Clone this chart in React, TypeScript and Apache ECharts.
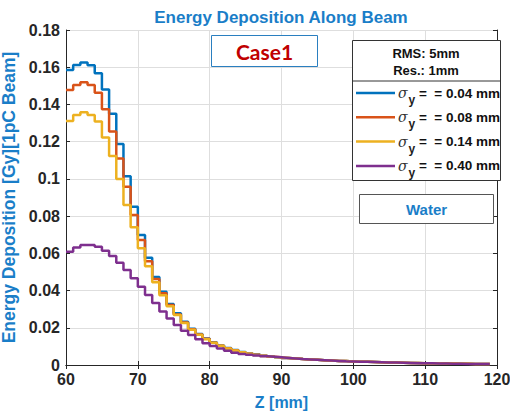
import React, { useEffect, useRef } from "react";
import * as echarts from "echarts";

const zValues = [
  60, 61, 62, 63, 64, 65, 66, 67, 68, 69, 70, 71, 72, 73, 74, 75, 76, 77, 78, 79,
  80, 81, 82, 83, 84, 85, 86, 87, 88, 89, 90, 91, 92, 93, 94, 95, 96, 97, 98, 99,
  100, 101, 102, 103, 104, 105, 106, 107, 108, 109, 110, 111, 112, 113, 114, 115, 116, 117, 118, 119,
];

const dose004 = [
  0.1585, 0.1612, 0.1625, 0.161, 0.1567, 0.148, 0.135, 0.1188, 0.1014, 0.085,
  0.0699, 0.0576, 0.0473, 0.0394, 0.0328, 0.0278, 0.0233, 0.0195, 0.0167, 0.0143,
  0.0122, 0.0105, 0.0091, 0.008, 0.007, 0.0062, 0.0056, 0.005, 0.0046, 0.0042,
  0.0038, 0.0035, 0.0032, 0.003, 0.0028, 0.0026, 0.0024, 0.0022, 0.0021, 0.0019,
  0.0018, 0.0017, 0.0016, 0.0015, 0.0014, 0.0013, 0.0012, 0.0011, 0.0011, 0.001,
  0.0009, 0.0009, 0.0008, 0.0008, 0.0007, 0.0007, 0.0006, 0.0006, 0.0005, 0.0005,
];
const dose008 = [
  0.1478, 0.1505, 0.1519, 0.1505, 0.1463, 0.1374, 0.1254, 0.111, 0.0958, 0.0806,
  0.0672, 0.0557, 0.0462, 0.0386, 0.0322, 0.0272, 0.0229, 0.0192, 0.0164, 0.0141,
  0.012, 0.0104, 0.009, 0.0079, 0.0069, 0.0061, 0.0055, 0.005, 0.0045, 0.0042,
  0.0038, 0.0035, 0.0032, 0.003, 0.0028, 0.0026, 0.0024, 0.0022, 0.0021, 0.0019,
  0.0018, 0.0017, 0.0016, 0.0015, 0.0014, 0.0013, 0.0012, 0.0011, 0.0011, 0.001,
  0.0009, 0.0009, 0.0008, 0.0008, 0.0007, 0.0007, 0.0006, 0.0006, 0.0005, 0.0005,
];
const dose014 = [
  0.1311, 0.1343, 0.1358, 0.1343, 0.1308, 0.1223, 0.1123, 0.1, 0.086, 0.074,
  0.0627, 0.053, 0.0444, 0.0375, 0.0316, 0.0268, 0.0226, 0.019, 0.0162, 0.0139,
  0.0119, 0.0103, 0.0089, 0.0078, 0.0068, 0.006, 0.0054, 0.0049, 0.0045, 0.0041,
  0.0038, 0.0035, 0.0032, 0.003, 0.0028, 0.0026, 0.0024, 0.0022, 0.0021, 0.0019,
  0.0018, 0.0017, 0.0016, 0.0015, 0.0014, 0.0013, 0.0012, 0.0011, 0.0011, 0.001,
  0.0009, 0.0009, 0.0008, 0.0008, 0.0007, 0.0007, 0.0006, 0.0006, 0.0005, 0.0005,
];
const dose040 = [
  0.0609, 0.0632, 0.0645, 0.0645, 0.0636, 0.0614, 0.0586, 0.055, 0.051, 0.0466,
  0.0421, 0.0376, 0.0333, 0.0287, 0.025, 0.0215, 0.0184, 0.0161, 0.0138, 0.0117,
  0.0102, 0.0088, 0.0077, 0.0066, 0.0059, 0.0055, 0.0051, 0.0047, 0.0044, 0.0041,
  0.0038, 0.0035, 0.0032, 0.003, 0.0028, 0.0026, 0.0024, 0.0022, 0.002, 0.0019,
  0.0018, 0.0017, 0.0016, 0.0015, 0.0014, 0.0013, 0.0012, 0.0011, 0.001, 0.001,
  0.0009, 0.0008, 0.0008, 0.0007, 0.0007, 0.0006, 0.0006, 0.0005, 0.0005, 0.0004,
];

const seriesNames = ["0.04", "0.08", "0.14", "0.40"];
const seriesValues = [dose004, dose008, dose014, dose040];
const seriesColors = ["#0072BD", "#D95319", "#EDB120", "#7E2F8E"];

const FONT = "'Liberation Sans', Arial, sans-serif";
const AXIS_TEXT = "#262626";
const BLUE_TEXT = "#1a7ec8";

export default function App() {
  const ref = useRef<HTMLDivElement>(null);

  useEffect(() => {
    if (!ref.current) return;
    const chart = echarts.init(ref.current, null, { renderer: "svg" });

    const legendItems: any[] = [];
    seriesNames.forEach((name, i) => {
      const cy = 93 + i * 24.3;
      legendItems.push({
        type: "line",
        shape: { x1: 356, y1: cy, x2: 395, y2: cy },
        style: { stroke: seriesColors[i], lineWidth: 2.5 },
        z: 101,
      });
      legendItems.push({
        type: "text",
        x: 398,
        y: cy,
        style: {
          text: `{s|σ}{sub|y}{t| =  = ${name} mm}`,
          verticalAlign: "middle",
          rich: {
            s: { fontFamily: "'DejaVu Serif', serif", fontStyle: "italic", fontSize: 14, fill: "#333" },
            sub: { fontFamily: FONT, fontWeight: "bold", fontSize: 12, fill: "#222", padding: [14, 0, 0, 1] },
            t: { fontFamily: FONT, fontWeight: "bold", fontSize: 13.5, fill: "#111" },
          },
        },
        z: 101,
      });
    });

    const option: any = {
      animation: false,
      backgroundColor: "#ffffff",
      grid: {
        left: 66,
        top: 30,
        right: 13,
        bottom: 49,
        containLabel: false,
        outerBoundsMode: "none",
      },
      xAxis: [
        {
          type: "value",
          min: 60,
          max: 120,
          interval: 10,
          name: "Z [mm]",
          nameLocation: "middle",
          nameGap: 29,
          nameTextStyle: { color: BLUE_TEXT, fontWeight: "bold", fontSize: 16, fontFamily: FONT },
          axisLine: { show: true, lineStyle: { color: AXIS_TEXT, width: 1 } },
          axisTick: { show: true, inside: true, length: 4, lineStyle: { color: AXIS_TEXT } },
          axisLabel: { color: AXIS_TEXT, fontWeight: "bold", fontSize: 16, fontFamily: FONT, margin: 6 },
          splitLine: { show: true, lineStyle: { color: "#dedede", width: 1 } },
        },
        {
          type: "value",
          position: "top",
          min: 60,
          max: 120,
          interval: 10,
          axisLine: { show: true, lineStyle: { color: AXIS_TEXT, width: 1 } },
          axisTick: { show: true, inside: true, length: 4, lineStyle: { color: AXIS_TEXT } },
          axisLabel: { show: false },
          splitLine: { show: false },
        },
      ],
      yAxis: [
        {
          type: "value",
          min: 0,
          max: 0.18,
          interval: 0.02,
          name: "Energy Deposition [Gy][1pC Beam]",
          nameLocation: "middle",
          nameGap: 37,
          nameTextStyle: { color: BLUE_TEXT, fontWeight: "bold", fontSize: 17.5, fontFamily: FONT },
          axisLine: { show: true, lineStyle: { color: AXIS_TEXT, width: 1 } },
          axisTick: { show: true, inside: true, length: 4, lineStyle: { color: AXIS_TEXT } },
          axisLabel: {
            color: AXIS_TEXT,
            fontWeight: "bold",
            fontSize: 16,
            fontFamily: FONT,
            margin: 6,
            formatter: (v: number) => String(+v.toFixed(2)),
          },
          splitLine: { show: true, lineStyle: { color: "#dedede", width: 1 } },
        },
        {
          type: "value",
          position: "right",
          min: 0,
          max: 0.18,
          interval: 0.02,
          axisLine: { show: true, lineStyle: { color: AXIS_TEXT, width: 1 } },
          axisTick: { show: true, inside: true, length: 4, lineStyle: { color: AXIS_TEXT } },
          axisLabel: { show: false },
          splitLine: { show: false },
        },
      ],
      series: seriesNames.map((name, i) => ({
        name,
        type: "line",
        step: "end",
        showSymbol: false,
        symbol: "none",
        xAxisIndex: 0,
        yAxisIndex: 0,
        color: seriesColors[i],
        lineStyle: { width: 2.5, color: seriesColors[i] },
        data: zValues.map((z, k) => [z, seriesValues[i][k]]),
        z: 10 + i,
      })),
      graphic: [
        {
          type: "text",
          x: 281,
          y: 17,
          style: {
            text: "Energy Deposition Along Beam",
            fill: BLUE_TEXT,
            fontFamily: FONT,
            fontWeight: "bold",
            fontSize: 17,
            textAlign: "center",
            verticalAlign: "middle",
          },
        },
        {
          type: "rect",
          shape: { x: 211.5, y: 35.5, width: 106, height: 31 },
          style: { fill: "#ffffff", stroke: "#2a7fc0", lineWidth: 1 },
          z: 100,
        },
        {
          type: "text",
          x: 264.5,
          y: 51,
          style: {
            text: "Case1",
            fill: "#c00000",
            fontFamily: "Lato, 'Open Sans', sans-serif",
            fontWeight: "bold",
            fontSize: 21,
            textAlign: "center",
            verticalAlign: "middle",
          },
          z: 101,
        },
        {
          type: "rect",
          shape: { x: 352.5, y: 40.5, width: 148, height: 140 },
          style: { fill: "#ffffff", stroke: "#333333", lineWidth: 1 },
          z: 100,
        },
        {
          type: "line",
          shape: { x1: 352.5, y1: 81, x2: 500.5, y2: 81 },
          style: { stroke: "#333333", lineWidth: 1 },
          z: 101,
        },
        {
          type: "text",
          x: 426,
          y: 53,
          style: {
            text: "RMS: 5mm",
            fill: "#111",
            fontFamily: FONT,
            fontWeight: "bold",
            fontSize: 13,
            textAlign: "center",
            verticalAlign: "middle",
          },
          z: 101,
        },
        {
          type: "text",
          x: 426,
          y: 70,
          style: {
            text: "Res.: 1mm",
            fill: "#111",
            fontFamily: FONT,
            fontWeight: "bold",
            fontSize: 13,
            textAlign: "center",
            verticalAlign: "middle",
          },
          z: 101,
        },
        ...legendItems,
        {
          type: "rect",
          shape: { x: 359.5, y: 194.5, width: 134, height: 29 },
          style: { fill: "#ffffff", stroke: "#555555", lineWidth: 1 },
          z: 100,
        },
        {
          type: "text",
          x: 426.5,
          y: 209,
          style: {
            text: "Water",
            fill: BLUE_TEXT,
            fontFamily: FONT,
            fontWeight: "bold",
            fontSize: 15,
            textAlign: "center",
            verticalAlign: "middle",
          },
          z: 101,
        },
      ],
    };

    chart.setOption(option);
    return () => chart.dispose();
  }, []);

  return (
    <div
      ref={ref}
      style={{ position: "absolute", left: 0, top: 0, width: 510, height: 414 }}
    />
  );
}
